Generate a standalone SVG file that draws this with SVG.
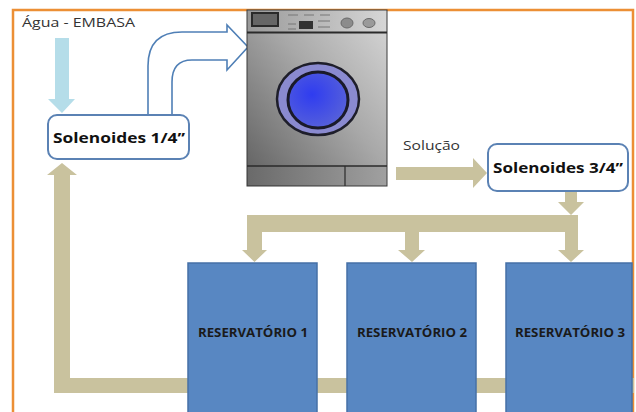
<svg xmlns="http://www.w3.org/2000/svg" width="636" height="412" viewBox="0 0 636 412">
  <defs>
    <linearGradient id="bodyGrad" x1="0" y1="1" x2="1" y2="0">
      <stop offset="0" stop-color="#5e5e5e"/>
      <stop offset="0.55" stop-color="#a8a8a8"/>
      <stop offset="1" stop-color="#d8d8d8"/>
    </linearGradient>
    <linearGradient id="panelGrad" x1="0" y1="0" x2="1" y2="0">
      <stop offset="0" stop-color="#9a9a9a"/>
      <stop offset="1" stop-color="#d6d6d6"/>
    </linearGradient>
    <linearGradient id="baseGrad" x1="0" y1="0" x2="1" y2="0">
      <stop offset="0" stop-color="#6a6a6a"/>
      <stop offset="1" stop-color="#a0a0a0"/>
    </linearGradient>
    <radialGradient id="glassGrad" cx="0.4" cy="0.4" r="0.7">
      <stop offset="0" stop-color="#2f3cf0"/>
      <stop offset="1" stop-color="#5a64d8"/>
    </radialGradient>
    <style>
      .flow { fill: #c9c29e; }
      .box { fill: #ffffff; stroke: #5b82b4; stroke-width: 2; }
      .tank { fill: #5887c2; stroke: #4670a6; stroke-width: 1.5; }
      .lbl { font-family: "Open Sans", "Liberation Sans", sans-serif; fill: #333; }
      .boxlbl { font-family: "Open Sans", "Liberation Sans", sans-serif; font-weight: bold; font-size: 15px; fill: #111; text-anchor: middle; }
      .tanklbl { font-family: "Open Sans", "Liberation Sans", sans-serif; font-weight: bold; font-size: 12px; fill: #1a1a1a; text-anchor: middle; }
      .ctl { stroke: #777; stroke-width: 1; }
    </style>
  </defs>

  <rect width="636" height="412" fill="#ffffff"/>

  <!-- frame -->
  <path d="M13 412 V10 H633 V412" fill="none" stroke="#ec8f35" stroke-width="2.5"/>

  <!-- connectors -->
  <g id="connectors">
    <!-- water supply into the 1/4'' valves -->
    <path d="M55 38 H69 V99 H75 L62 113 L48 99 H55 Z" fill="#b5dde9"/>
    <!-- valves to washer (hollow bent arrow) -->
    <path d="M148 115 V66 Q148 32 182 32 H227 V25 L248 47 L227 70 V60 H192 Q172 60 172 82 V115 Z" fill="#ffffff" stroke="#4f7fb6" stroke-width="1.6" stroke-linejoin="miter"/>
    <!-- solution out of washer -->
    <path d="M396 167 H473 V158 L487 173 L473 188 V180 H396 Z" class="flow"/>
    <!-- 3/4'' valves down to manifold -->
    <path d="M565 192 H577 V202 H584 L571 215 L558 202 H565 Z" class="flow"/>
    <!-- manifold with three drops -->
    <path d="M247 215 H578 V250 H584 L571 262 L558 250 H565 V232 H419 V250 H425 L412 262 L398 250 H405 V232 H262 V250 H267 L254.5 262 L242 250 H247 Z" class="flow"/>
    <!-- return line under the tanks -->
    <rect x="54" y="378" width="580" height="15" class="flow"/>
    <path d="M54 393 V175 H47 L62 163 L77 175 H70 V393 Z" class="flow"/>
  </g>

  <!-- Água - EMBASA label -->
  <text x="22" y="27" class="lbl" font-size="13.5" textLength="113" lengthAdjust="spacingAndGlyphs">Água - EMBASA</text>

  <g id="solenoides-1-4">
    <rect x="48" y="115" width="141" height="44" rx="9" class="box"/>
    <text x="119" y="143" class="boxlbl" textLength="132" lengthAdjust="spacingAndGlyphs">Solenoides 1/4’’</text>
  </g>

  <g id="maquina-lavar">
    <rect x="247" y="10" width="140" height="176" fill="url(#bodyGrad)" stroke="#3a3a3a" stroke-width="1"/>
    <rect x="248" y="11" width="138" height="21" fill="url(#panelGrad)"/>
    <line x1="247" y1="32.5" x2="387" y2="32.5" stroke="#2a2a2a" stroke-width="2"/>
    <rect x="252" y="13" width="26" height="13" fill="#666" stroke="#2a2a2a" stroke-width="2"/>
    <rect x="299" y="21" width="14" height="8" fill="#333"/>
    <line x1="288" y1="15" x2="298" y2="15" class="ctl"/>
    <line x1="304" y1="15" x2="314" y2="15" class="ctl"/>
    <line x1="320" y1="15" x2="330" y2="15" class="ctl"/>
    <line x1="288" y1="24" x2="296" y2="24" class="ctl"/>
    <line x1="318" y1="21" x2="330" y2="21" class="ctl"/>
    <line x1="318" y1="27" x2="330" y2="27" class="ctl"/>
    <line x1="288" y1="29" x2="296" y2="29" class="ctl"/>
    <ellipse cx="347" cy="23" rx="6" ry="5" fill="#8c8c8c" stroke="#6a6a6a"/>
    <ellipse cx="369" cy="23" rx="6" ry="4.5" fill="#9a9a9a" stroke="#6a6a6a"/>
    <ellipse cx="318" cy="99" rx="41" ry="36" fill="#8a8ad0" stroke="#1e1e2a" stroke-width="2.5"/>
    <ellipse cx="318" cy="100" rx="30" ry="28" fill="url(#glassGrad)" stroke="#1a1a2a" stroke-width="3"/>
    <rect x="248" y="166" width="138" height="19" fill="url(#baseGrad)"/>
    <line x1="247" y1="166" x2="387" y2="166" stroke="#2a2a2a" stroke-width="1.5"/>
    <line x1="345" y1="166" x2="345" y2="186" stroke="#2a2a2a" stroke-width="1.2"/>
  </g>

  <text x="403" y="150" class="lbl" font-size="13.5" textLength="57" lengthAdjust="spacingAndGlyphs">Solução</text>

  <g id="solenoides-3-4">
    <rect x="488" y="144" width="140" height="47" rx="9" class="box"/>
    <text x="558" y="173" class="boxlbl" textLength="130" lengthAdjust="spacingAndGlyphs">Solenoides 3/4’’</text>
  </g>

  <g id="reservatorio-1">
    <rect x="188" y="263" width="129" height="160" class="tank"/>
    <text x="253" y="337" class="tanklbl" textLength="110" lengthAdjust="spacingAndGlyphs">RESERVATÓRIO  1</text>
  </g>
  <g id="reservatorio-2">
    <rect x="347" y="263" width="129" height="160" class="tank"/>
    <text x="412" y="337" class="tanklbl" textLength="110" lengthAdjust="spacingAndGlyphs">RESERVATÓRIO  2</text>
  </g>
  <g id="reservatorio-3">
    <rect x="506" y="263" width="126" height="160" class="tank"/>
    <text x="570" y="337" class="tanklbl" textLength="110" lengthAdjust="spacingAndGlyphs">RESERVATÓRIO  3</text>
  </g>
</svg>
